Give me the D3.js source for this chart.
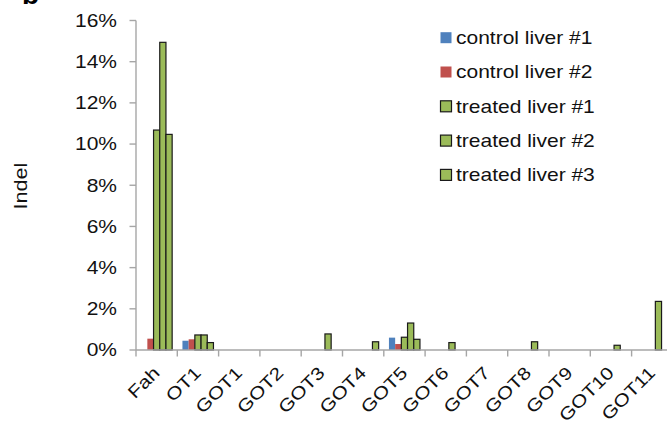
<!DOCTYPE html>
<html>
<head>
<meta charset="utf-8">
<script src="https://cdn.jsdelivr.net/npm/d3@7"></script>
<style>
  body { margin: 0; background: #fff; }
  svg { display: block; font-family: "Liberation Sans", Arial, sans-serif; }
</style>
</head>
<body>
<svg id="chart" width="667" height="424"></svg>
<script>
// data (indel fraction, %)
let categories = ["Fah", "OT1", "GOT1", "GOT2", "GOT3", "GOT4", "GOT5", "GOT6", "GOT7", "GOT8", "GOT9", "GOT10", "GOT11"];
let seriesNames = ["control liver #1", "control liver #2", "treated liver #1", "treated liver #2", "treated liver #3"];
let control1 = [0, 0.45, 0, 0, 0, 0, 0.60, 0, 0, 0, 0, 0, 0];
let control2 = [0.55, 0.52, 0, 0, 0, 0, 0.29, 0, 0, 0, 0, 0, 0];
let treated1 = [10.68, 0.73, 0, 0, 0, 0, 0.62, 0, 0, 0, 0, 0, 0];
let treated2 = [14.94, 0.73, 0, 0, 0.78, 0, 1.31, 0.36, 0, 0.40, 0, 0.23, 2.36];
let treated3 = [10.47, 0.36, 0, 0, 0, 0.40, 0.52, 0, 0, 0, 0, 0, 0];
let yTicks = [0, 2, 4, 6, 8, 10, 12, 14, 16];

let seriesValues = [control1, control2, treated1, treated2, treated3];
let colors = ["#4f81bd", "#c0504d", "#9bbb59", "#9bbb59", "#9bbb59"];
let outlined = [false, false, true, true, true];

let fontSize = 17.5;
let stretch = 1.2; // reference text is wider than Arial

let svg = d3.select('#chart');

let x = d3.scaleBand()
    .domain(categories)
    .range([136, 136 + 13 * 41.3])
    .padding(0);
let inner = d3.scaleBand()
    .domain(seriesNames)
    .range([0, x.bandwidth()])
    .paddingInner(0)
    .paddingOuter(0.83);
let y = d3.scaleLinear().domain([0, 16]).range([350, 20.5]);

// bars
seriesNames.forEach(function (name, si) {
    let rows = categories.map(function (c, i) {
        return { cat: c, value: seriesValues[si][i] };
    }).filter(function (d) { return d.value > 0; });
    svg.append('g')
        .selectAll('rect')
        .data(rows)
        .enter().append('rect')
        .attr('x', function (d) { return x(d.cat) + inner(name); })
        .attr('y', function (d) { return y(d.value); })
        .attr('width', inner.bandwidth())
        .attr('height', function (d) { return y(0) - y(d.value); })
        .style('fill', colors[si])
        .style('stroke', outlined[si] ? '#1a1a1a' : 'none')
        .style('stroke-width', outlined[si] ? 1.2 : 0);
});

// y axis
let yAxis = svg.append('g');
yAxis.append('line')
    .attr('x1', 136).attr('x2', 136)
    .attr('y1', y(16)).attr('y2', y(0))
    .style('stroke', '#a6a6a6').style('stroke-width', 1.4);
yTicks.forEach(function (t) {
    yAxis.append('line')
        .attr('x1', 129.5).attr('x2', 136)
        .attr('y1', y(t)).attr('y2', y(t))
        .style('stroke', '#a6a6a6').style('stroke-width', 1.4);
    yAxis.append('g')
        .attr('transform', 'translate(117,' + (y(t) + 6.3) + ') scale(' + stretch + ',1)')
        .append('text')
        .attr('text-anchor', 'end')
        .style('font-size', fontSize + 'px')
        .style('fill', '#111')
        .text(t + '%');
});

// x axis
let xAxis = svg.append('g');
xAxis.append('line')
    .attr('x1', 136).attr('x2', 667)
    .attr('y1', y(0)).attr('y2', y(0))
    .style('stroke', '#a6a6a6').style('stroke-width', 1.4);
categories.forEach(function (c) {
    xAxis.append('line')
        .attr('x1', x(c)).attr('x2', x(c))
        .attr('y1', y(0)).attr('y2', y(0) + 6.5)
        .style('stroke', '#a6a6a6').style('stroke-width', 1.4);
    xAxis.append('g')
        .attr('transform', 'translate(' + (x(c) + x.bandwidth() / 2 + 4) + ',374) rotate(-45) scale(' + stretch + ',1)')
        .append('text')
        .attr('text-anchor', 'end')
        .style('font-size', fontSize + 'px')
        .style('fill', '#111')
        .text(c);
});

// y label
svg.append('g')
    .attr('transform', 'translate(27,186) rotate(-90) scale(' + stretch + ',1)')
    .append('text')
    .attr('text-anchor', 'middle')
    .style('font-size', '18px')
    .style('fill', '#111')
    .text('Indel');

// panel letter, cut off at the top as in the reference
svg.append('text')
    .attr('x', 22).attr('y', 4)
    .style('font-size', '28px')
    .style('font-weight', 'bold')
    .text('b');

// legend
let legendSpacing = 34.3;
let legend = svg.selectAll('.legend')
    .data(seriesNames)
    .enter().append('g')
    .attr('class', 'legend')
    .attr('transform', function (d, i) { return 'translate(440,' + (37.7 + i * legendSpacing) + ')'; });
legend.append('rect')
    .attr('x', 0.5).attr('y', -5.5)
    .attr('width', 11).attr('height', 11)
    .style('fill', function (d, i) { return colors[i]; })
    .style('stroke', function (d, i) { return outlined[i] ? '#1a1a1a' : 'none'; })
    .style('stroke-width', 1.2);
legend.append('g')
    .attr('transform', 'translate(16,6.3) scale(' + stretch + ',1)')
    .append('text')
    .style('font-size', fontSize + 'px')
    .style('fill', '#111')
    .text(function (d) { return d; });
</script>
</body>
</html>
